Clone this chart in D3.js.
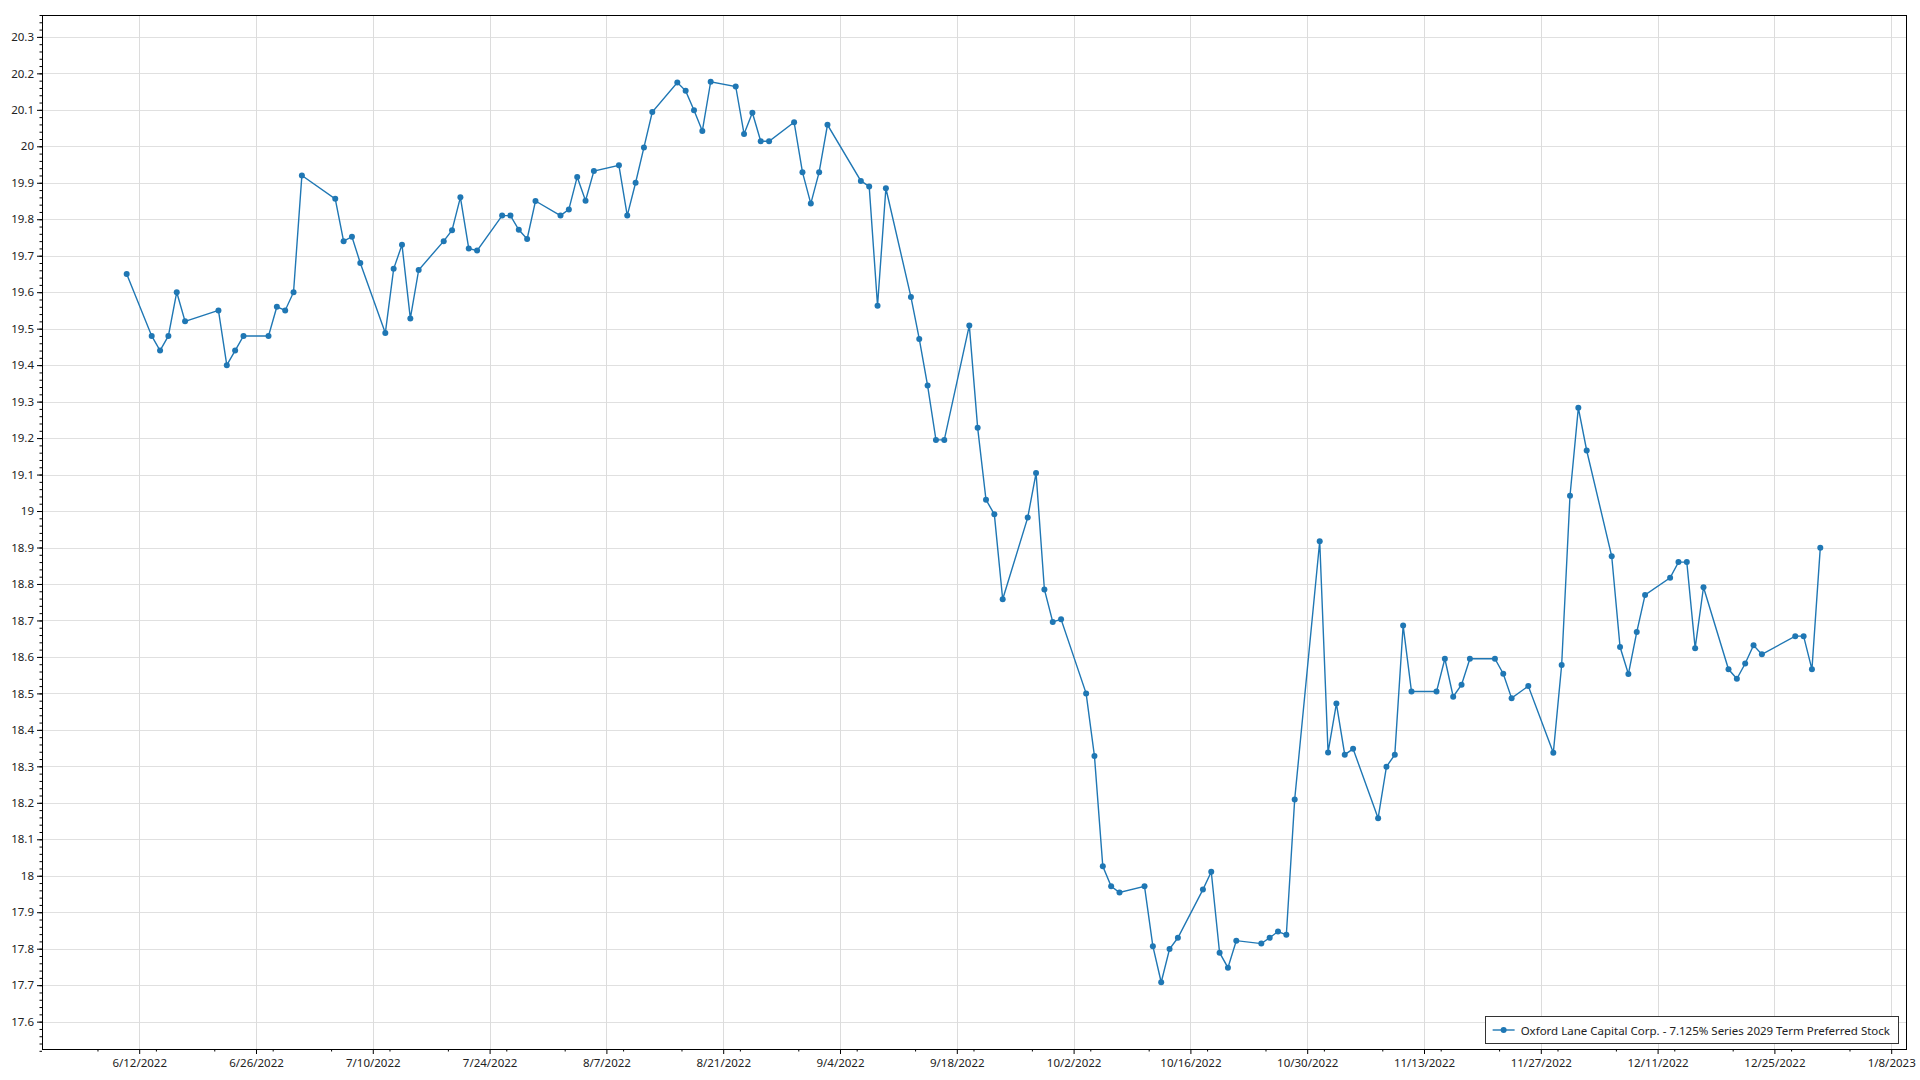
<!DOCTYPE html>
<html><head><meta charset="utf-8">
<script src="https://cdn.jsdelivr.net/npm/d3@7"></script>
<style>
body{margin:0;background:#fff;}
svg{display:block;}
text{font-family:"Noto Sans","Open Sans",sans-serif;fill:#222;}
</style>
</head><body>
<svg id="chart" width="1920" height="1080"></svg>
<script>
const seriesName = "Oxford Lane Capital Corp. - 7.125% Series 2029 Term Preferred Stock";

const dates = [
"2022-06-10","2022-06-13","2022-06-14","2022-06-15","2022-06-16","2022-06-17","2022-06-21","2022-06-22","2022-06-23","2022-06-24",
"2022-06-27","2022-06-28","2022-06-29","2022-06-30","2022-07-01","2022-07-05","2022-07-06","2022-07-07","2022-07-08","2022-07-11",
"2022-07-12","2022-07-13","2022-07-14","2022-07-15","2022-07-18","2022-07-19","2022-07-20","2022-07-21","2022-07-22","2022-07-25",
"2022-07-26","2022-07-27","2022-07-28","2022-07-29","2022-08-01","2022-08-02","2022-08-03","2022-08-04","2022-08-05","2022-08-08",
"2022-08-09","2022-08-10","2022-08-11","2022-08-12","2022-08-15","2022-08-16","2022-08-17","2022-08-18","2022-08-19","2022-08-22",
"2022-08-23","2022-08-24","2022-08-25","2022-08-26","2022-08-29","2022-08-30","2022-08-31","2022-09-01","2022-09-02","2022-09-06",
"2022-09-07","2022-09-08","2022-09-09","2022-09-12","2022-09-13","2022-09-14","2022-09-15","2022-09-16","2022-09-19","2022-09-20",
"2022-09-21","2022-09-22","2022-09-23","2022-09-26","2022-09-27","2022-09-28","2022-09-29","2022-09-30","2022-10-03","2022-10-04",
"2022-10-05","2022-10-06","2022-10-07","2022-10-10","2022-10-11","2022-10-12","2022-10-13","2022-10-14","2022-10-17","2022-10-18",
"2022-10-19","2022-10-20","2022-10-21","2022-10-24","2022-10-25","2022-10-26","2022-10-27","2022-10-28","2022-10-31","2022-11-01",
"2022-11-02","2022-11-03","2022-11-04","2022-11-07","2022-11-08","2022-11-09","2022-11-10","2022-11-11","2022-11-14","2022-11-15",
"2022-11-16","2022-11-17","2022-11-18","2022-11-21","2022-11-22","2022-11-23","2022-11-25","2022-11-28","2022-11-29","2022-11-30",
"2022-12-01","2022-12-02","2022-12-05","2022-12-06","2022-12-07","2022-12-08","2022-12-09","2022-12-12","2022-12-13","2022-12-14",
"2022-12-15","2022-12-16","2022-12-19","2022-12-20","2022-12-21","2022-12-22","2022-12-23","2022-12-27","2022-12-28","2022-12-29",
"2022-12-30"
];

const prices = [
19.65,19.48,19.44,19.48,19.60,19.52,19.55,19.40,19.44,19.48,
19.48,19.56,19.55,19.60,19.92,19.856,19.74,19.752,19.68,19.488,
19.664,19.73,19.528,19.661,19.74,19.77,19.86,19.72,19.714,19.81,
19.81,19.771,19.746,19.85,19.81,19.827,19.916,19.851,19.932,19.948,
19.81,19.90,19.997,20.094,20.175,20.152,20.099,20.042,20.177,20.164,
20.034,20.092,20.014,20.014,20.066,19.929,19.843,19.929,20.059,19.905,
19.89,19.563,19.885,19.587,19.472,19.344,19.195,19.195,19.509,19.228,
19.031,18.991,18.758,18.982,19.104,18.785,18.696,18.703,18.50,18.328,
18.026,17.971,17.954,17.971,17.807,17.708,17.799,17.83,17.962,18.011,
17.789,17.748,17.822,17.814,17.83,17.847,17.838,18.209,18.917,18.338,
18.472,18.332,18.348,18.158,18.299,18.332,18.686,18.505,18.505,18.595,
18.491,18.524,18.595,18.595,18.554,18.487,18.52,18.337,18.578,19.042,
19.283,19.166,18.876,18.627,18.553,18.668,18.77,18.817,18.86,18.86,
18.624,18.791,18.566,18.54,18.582,18.632,18.607,18.657,18.657,18.566,
18.899
];

const xTickDates = ["2022-06-12","2022-06-26","2022-07-10","2022-07-24","2022-08-07","2022-08-21","2022-09-04","2022-09-18",
"2022-10-02","2022-10-16","2022-10-30","2022-11-13","2022-11-27","2022-12-11","2022-12-25","2023-01-08"];

const yTickValues = [17.6,17.7,17.8,17.9,18.0,18.1,18.2,18.3,18.4,18.5,18.6,18.7,18.8,18.9,19.0,
19.1,19.2,19.3,19.4,19.5,19.6,19.7,19.8,19.9,20.0,20.1,20.2,20.3];

const yDomain = [17.525, 20.36];

// ---- drawing ----
const W = 1920, H = 1080;
const plot = {left: 42, top: 15, right: 1907, bottom: 1049};
const parse = d3.timeParse("%Y-%m-%d");
const HALF_DAY = 12 * 3600 * 1000;
const DAY = 24 * 3600 * 1000;
const data = dates.map((d, i) => ({t: new Date(parse(d).getTime() + HALF_DAY), v: prices[i]}));

const t0 = data[0].t.getTime(), t1 = data[data.length - 1].t.getTime();
const span = t1 - t0;
const x = d3.scaleTime()
  .domain([new Date(t0 - span * 0.05), new Date(t1 + span * 0.0512)])
  .range([plot.left, plot.right]);
const y = d3.scaleLinear().domain(yDomain).range([plot.bottom, plot.top]);

const svg = d3.select("#chart");
svg.append("rect").attr("width", W).attr("height", H).attr("fill", "#fff");

const xTicks = xTickDates.map(parse);
const fmtDate = d => (d.getMonth() + 1) + "/" + d.getDate() + "/" + d.getFullYear();
const fmtY = v => String(+v.toFixed(1));
const FS = 11.5;

// gridlines
const grid = svg.append("g").attr("shape-rendering", "crispEdges");
grid.selectAll("line.h").data(yTickValues).join("line")
  .attr("x1", plot.left).attr("x2", plot.right)
  .attr("y1", d => Math.round(y(d)) + 0.5).attr("y2", d => Math.round(y(d)) + 0.5)
  .attr("stroke", "#e0e0e0");
grid.selectAll("line.v").data(xTicks).join("line")
  .attr("y1", plot.top).attr("y2", plot.bottom)
  .attr("x1", d => Math.round(x(d)) + 0.5).attr("x2", d => Math.round(x(d)) + 0.5)
  .attr("stroke", "#dcdcdc");

// axes
const yMinor = d3.range(Math.round(yDomain[0] * 50), Math.round(yDomain[1] * 50) + 1).map(k => k / 50);
const yAxis = d3.axisLeft(y).tickValues(yTickValues).tickFormat(fmtY).tickSize(5).tickPadding(3);
const gy = svg.append("g").attr("transform", `translate(${plot.left},0)`).call(yAxis);
gy.select(".domain").remove();
gy.selectAll("text").attr("font-size", FS).style("font-family", '"Noto Sans",sans-serif').attr("fill", "#222");
gy.selectAll("line").attr("stroke", "#000");
const gym = svg.append("g").attr("transform", `translate(${plot.left},0)`)
  .call(d3.axisLeft(y).tickValues(yMinor).tickFormat("").tickSize(2.5));
gym.select(".domain").remove();
gym.selectAll("line").attr("stroke", "#000");

const xAxis = d3.axisBottom(x).tickValues(xTicks).tickFormat(fmtDate).tickSize(5).tickPadding(5);
const gx = svg.append("g").attr("transform", `translate(0,${plot.bottom})`).call(xAxis);
gx.select(".domain").remove();
gx.selectAll("text").attr("font-size", FS).style("font-family", '"Noto Sans",sans-serif').attr("fill", "#222");
gx.selectAll("line").attr("stroke", "#000");
const xMinorTicks = d3.range(-12, 213, 7).map(k => new Date(xTicks[0].getTime() + k * DAY)).filter(d => d >= x.domain()[0] && d <= x.domain()[1]);
const gxm = svg.append("g").attr("transform", `translate(0,${plot.bottom})`)
  .call(d3.axisBottom(x).tickValues(xMinorTicks).tickFormat("").tickSize(2.5));
gxm.select(".domain").remove();
gxm.selectAll("line").attr("stroke", "#000");

// frame
svg.append("rect")
  .attr("x", plot.left + 0.5).attr("y", plot.top + 0.5)
  .attr("width", plot.right - plot.left - 1).attr("height", plot.bottom - plot.top)
  .attr("fill", "none").attr("stroke", "#000").attr("stroke-width", 1)
  .attr("shape-rendering", "crispEdges");

// series
const color = "#1f77b4";
const line = d3.line().x(d => x(d.t)).y(d => y(d.v));
svg.append("path").datum(data).attr("d", line)
  .attr("fill", "none").attr("stroke", color).attr("stroke-width", 1.4);
svg.append("g").selectAll("circle").data(data).join("circle")
  .attr("cx", d => x(d.t)).attr("cy", d => y(d.v)).attr("r", 3).attr("fill", color);

// legend
const lg = svg.append("g");
const lgText = lg.append("text").text(seriesName).attr("font-size", FS).attr("fill", "#222");
const tw = lgText.node().getComputedTextLength();
const boxH = 27, sampleW = 22, padL = 8, gap = 6, padR = 8;
const boxW = padL + sampleW + gap + tw + padR;
const bx = plot.right - 9 - boxW, by = plot.bottom - 6 - boxH;
lg.insert("rect", "text").attr("x", Math.round(bx) + 0.5).attr("y", Math.round(by) + 0.5)
  .attr("width", Math.round(boxW)).attr("height", boxH)
  .attr("fill", "#fff").attr("stroke", "#333").attr("stroke-width", 1).attr("shape-rendering", "crispEdges");
const cy = Math.round(by) + boxH / 2 + 0.5;
lg.append("line").attr("x1", bx + padL).attr("x2", bx + padL + sampleW).attr("y1", cy).attr("y2", cy)
  .attr("stroke", color).attr("stroke-width", 1.4);
lg.append("circle").attr("cx", bx + padL + sampleW / 2).attr("cy", cy).attr("r", 3).attr("fill", color);
lgText.attr("x", bx + padL + sampleW + gap).attr("y", cy).attr("dominant-baseline", "central");
</script>
</body></html>
